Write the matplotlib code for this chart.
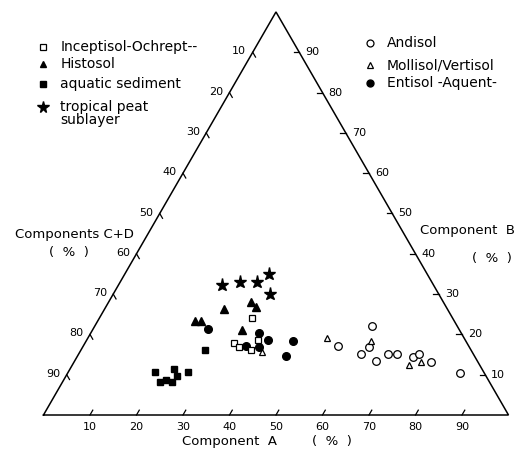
import numpy as np
import matplotlib
matplotlib.use("Agg")
import matplotlib.pyplot as plt

plt.rcParams['font.family'] = ['DejaVu Sans']

# ---- data: Component A (%) and Component B (%); Components C+D = 100 - A - B ----
andisol_A = [54.8, 59.7, 61.7, 60.7, 64.8, 66.6, 68.4, 72.2, 73.3, 76.7, 84.5]
andisol_B = [17.2, 22.1, 16.8, 15.1, 13.4, 15.1, 15.1, 14.5, 15.1, 13.2, 10.3]

mollisol_A = [39.1, 51.4, 61.2, 72.5, 74.5]
mollisol_B = [15.6, 19.0, 18.4, 12.4, 13.2]

entisol_A = [24.8, 36.1, 34.9, 37.8, 38.9, 44.4, 44.9]
entisol_B = [21.3, 20.4, 17.1, 16.9, 18.6, 18.4, 14.7]

inceptisol_A = [32.7, 32.1, 33.6, 36.6, 36.9]
inceptisol_B = [24.1, 17.8, 16.8, 16.1, 18.6]

histosol_A = [25.8, 30.6, 32.2, 21.0, 22.2, 32.2]
histosol_B = [26.2, 28.1, 26.9, 23.2, 23.2, 21.1]

aquatic_A = [26.7, 18.6, 22.4, 23.8, 25.8, 21.0, 22.1, 23.5]
aquatic_B = [16.1, 10.7, 11.4, 9.8, 10.7, 8.1, 8.7, 8.1]

peat_A = [22.2, 25.8, 29.5, 31.1, 33.8]
peat_B = [32.3, 33.0, 32.9, 35.0, 29.9]

tick_values = [10, 20, 30, 40, 50, 60, 70, 80, 90]

legend_left = ["Inceptisol-Ochrept--", "Histosol", "aquatic sediment", "tropical peat"]
legend_right = ["Andisol", "Mollisol/Vertisol", "Entisol -Aquent-"]

S3 = np.sqrt(3) / 2


def tern(A, B):
    A = np.asarray(A, float)
    B = np.asarray(B, float)
    return A + B / 2, B * S3


fig = plt.figure(figsize=(5.17, 4.5), dpi=100)
ax = fig.add_axes([0, 0, 1, 1])
ax.set_xlim(-9.35, 101.83)
ax.set_ylim(-7.52, 89.17)
ax.axis('off')

# triangle
tx, ty = tern([0, 100, 0, 0], [0, 0, 100, 0])
ax.plot(tx, ty, color='black', lw=1.1, solid_joinstyle='miter')

L = 1.2
fs_tick = 8
for v in tick_values:
    # bottom: Component A
    x0, y0 = tern(v, 0)
    ax.plot([x0, x0 + 0.5 * L], [y0, y0 + S3 * L], color='black', lw=0.9)
    ax.text(x0, y0 - 2.5, str(v), ha='center', va='center', fontsize=fs_tick)
    # left: Components C+D
    x0, y0 = tern(0, 100 - v)
    ax.plot([x0, x0 + 0.5 * L], [y0, y0 - S3 * L], color='black', lw=0.9)
    ax.text(x0 - 1.4, y0 + 0.2, str(v), ha='right', va='center', fontsize=fs_tick)
    # right: Component B
    x0, y0 = tern(100 - v, v)
    ax.plot([x0, x0 - L], [y0, y0], color='black', lw=0.9)
    ax.text(x0 + 1.3, y0, str(v), ha='left', va='center', fontsize=fs_tick)

# axis titles
fs_t = 9.5
ax.text(29.8, -5.8, "Component  A", ha='left', va='center', fontsize=fs_t)
ax.text(57.7, -5.8, "(  %  )", ha='left', va='center', fontsize=fs_t)
ax.text(-6.2, 38.7, "Components C+D", ha='left', va='center', fontsize=fs_t)
ax.text(1.2, 35.0, "(  %  )", ha='left', va='center', fontsize=fs_t)
ax.text(81.0, 39.7, "Component  B", ha='left', va='center', fontsize=fs_t)
ax.text(92.2, 33.7, "(  %  )", ha='left', va='center', fontsize=fs_t)

# data
k = dict(color='black', linestyle='none')
x, y = tern(andisol_A, andisol_B)
ax.plot(x, y, marker='o', ms=5.5, mfc='white', mew=0.9, **k)
x, y = tern(mollisol_A, mollisol_B)
ax.plot(x, y, marker='^', ms=5, mfc='white', mew=0.9, **k)
x, y = tern(entisol_A, entisol_B)
ax.plot(x, y, marker='o', ms=5.5, **k)
x, y = tern(histosol_A, histosol_B)
ax.plot(x, y, marker='^', ms=5.5, **k)
x, y = tern(aquatic_A, aquatic_B)
ax.plot(x, y, marker='s', ms=4.8, **k)
x, y = tern(peat_A, peat_B)
ax.plot(x, y, marker='*', ms=9.5, **k)
x, y = tern(inceptisol_A, inceptisol_B)
ax.plot(x, y, marker='s', ms=5, mfc='white', mew=0.9, **k)

# legend (left)
fs_l = 10
lx, tx0 = -0.1, 3.6
rows = [79.1, 75.4, 71.1, 66.1]
ax.plot(lx, rows[0], marker='s', ms=4.5, mfc='white', mew=0.9, **k)
ax.plot(lx, rows[1], marker='^', ms=4.5, **k)
ax.plot(lx, rows[2], marker='s', ms=4.5, **k)
ax.plot(lx, rows[3], marker='*', ms=8.5, **k)
for lab, r in zip(legend_left, rows):
    ax.text(tx0, r, lab, ha='left', va='center', fontsize=fs_l)
ax.text(tx0, 63.3, "sublayer", ha='left', va='center', fontsize=fs_l)

# legend (right)
rx, rtx = 70.2, 73.8
rrows = [79.9, 75.2, 71.3]
ax.plot(rx, rrows[0], marker='o', ms=5, mfc='white', mew=0.9, **k)
ax.plot(rx, rrows[1], marker='^', ms=4.5, mfc='white', mew=0.9, **k)
ax.plot(rx, rrows[2], marker='o', ms=5, **k)
for lab, r in zip(legend_right, rrows):
    ax.text(rtx, r, lab, ha='left', va='center', fontsize=fs_l)

fig.savefig("out.png", dpi=100)
